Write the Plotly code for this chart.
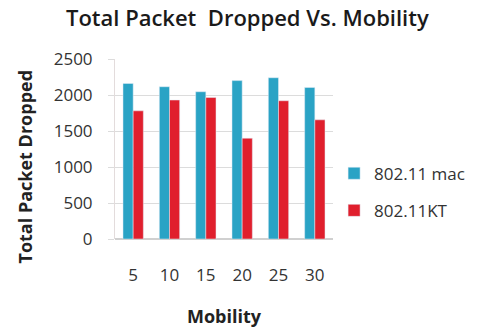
import plotly.graph_objects as go

mobility = ["5", "10", "15", "20", "25", "30"]
mac_dropped = [2160, 2115, 2045, 2200, 2240, 2105]
kt_dropped = [1780, 1930, 1965, 1400, 1920, 1655]
y_ticks = [0, 500, 1000, 1500, 2000, 2500]

FONT = "Open Sans"
BLUE = "#2aa3c5"
RED = "#e01f2d"

fig = go.Figure()
fig.add_trace(go.Bar(x=mobility, y=mac_dropped, name="802.11 mac",
                     marker_color=BLUE, legendgroup="a"))
fig.add_trace(go.Bar(x=mobility, y=kt_dropped, name="802.11KT",
                     marker_color=RED, legendgroup="b"))

fig.update_layout(
    width=485, height=328,
    margin=dict(l=115, r=152, t=59, b=89),
    paper_bgcolor="white", plot_bgcolor="white",
    font=dict(family=FONT, color="#333333"),
    title=dict(text="Total Packet\u00a0 Dropped Vs. Mobility",
               x=0.51, xanchor="center", y=0.945, yanchor="middle",
               font=dict(family=FONT, size=22, color="#1a1a1a", weight=600)),
    barmode="group", bargap=0.44, bargroupgap=0,
    showlegend=True,
    legend=dict(x=1.005, xanchor="left", y=0.26, yanchor="middle",
                font=dict(family=FONT, size=17, color="#333333"),
                tracegroupgap=12, bgcolor="rgba(0,0,0,0)"),
)
# axis titles as free text so they sit where the layout wants them
fig.add_annotation(text="<b>Total Packet Dropped</b>", textangle=-90,
                   xref="paper", yref="paper", x=-0.415, y=0.40,
                   xanchor="center", yanchor="middle", showarrow=False,
                   font=dict(family=FONT, size=18, color="#222222"))
fig.add_annotation(text="<b>Mobility</b>",
                   xref="paper", yref="paper", x=0.5, y=-0.43,
                   xanchor="center", yanchor="middle", showarrow=False,
                   font=dict(family=FONT, size=18, color="#222222"))
fig.update_xaxes(
    type="category", automargin=False,
    showline=False, showgrid=False, ticks="",
    ticklabelstandoff=24,
    tickfont=dict(family=FONT, size=17, color="#333333"),
)
fig.update_yaxes(
    range=[0, 2500], tickvals=y_ticks, automargin=False,
    showline=True, linecolor="#e3dcdc", linewidth=1,
    showgrid=True, gridcolor="#dcdcdc", gridwidth=1,
    zeroline=True, zerolinecolor="#d0d0d0",
    ticks="outside", ticklen=6, tickcolor="#dcdcdc",
    ticklabelstandoff=12,
    tickfont=dict(family=FONT, size=17, color="#333333"),
)

fig.write_html("out.html")
